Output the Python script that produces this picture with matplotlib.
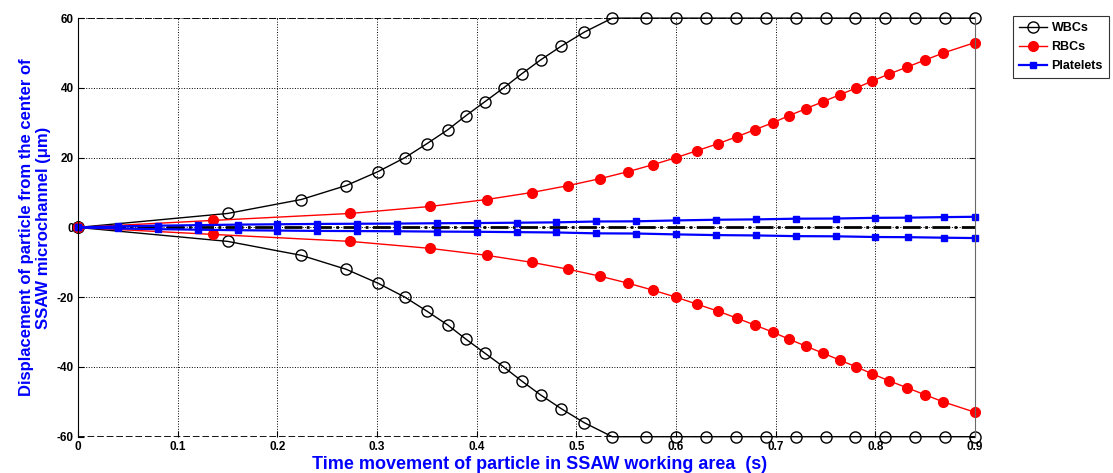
import numpy as np
from matplotlib import pyplot as plt

plt.rcParams['font.family'] = ['Liberation Sans', 'DejaVu Sans']
plt.rcParams['axes.unicode_minus'] = False

# WBCs (upper branch, lower branch is the mirror)
wbc_t = [0, 0.150, 0.224, 0.269, 0.301, 0.328, 0.350, 0.371, 0.389, 0.408,
         0.427, 0.445, 0.464, 0.485, 0.508, 0.536, 0.570, 0.600, 0.630, 0.660,
         0.690, 0.720, 0.750, 0.780, 0.810, 0.840, 0.870, 0.900]
wbc_d = [0, 4, 8, 12, 16, 20, 24, 28, 32, 36, 40, 44, 48, 52, 56,
         60, 60, 60, 60, 60, 60, 60, 60, 60, 60, 60, 60, 60]

# RBCs
rbc_t = [0, 0.135, 0.273, 0.353, 0.410, 0.455, 0.492, 0.524, 0.552, 0.577,
         0.600, 0.621, 0.642, 0.661, 0.679, 0.697, 0.713, 0.730, 0.747, 0.764,
         0.781, 0.797, 0.814, 0.832, 0.850, 0.868, 0.900]
rbc_d = [0, 2, 4, 6, 8, 10, 12, 14, 16, 18, 20, 22, 24, 26, 28, 30, 32, 34,
         36, 38, 40, 42, 44, 46, 48, 50, 53]

# Platelets
plt_t = [0, 0.04, 0.08, 0.12, 0.16, 0.20, 0.24, 0.28, 0.32, 0.36, 0.40, 0.44,
         0.48, 0.52, 0.56, 0.60, 0.64, 0.68, 0.72, 0.76, 0.80, 0.833, 0.869, 0.90]
plt_d = [0, 0.3, 0.5, 0.65, 0.8, 0.9, 1.0, 1.05, 1.1, 1.2, 1.25, 1.35,
         1.45, 1.7, 1.75, 2.0, 2.2, 2.3, 2.5, 2.55, 2.75, 2.8, 2.95, 3.05]

fig = plt.figure(figsize=(11.13, 4.73), dpi=100)
ax = fig.add_axes([0.0701, 0.0767, 0.806, 0.885])

ax.axhline(0, color='black', ls='-.', lw=2, zorder=1)
ax.axhline(60, color='black', ls='--', lw=1.3, zorder=1)
ax.axhline(-60, color='black', ls='--', lw=1.3, zorder=1)

h1, = ax.plot(wbc_t, wbc_d, 'k-o', mfc='none', ms=8, lw=1, mew=1, clip_on=False, label='WBCs')
ax.plot(wbc_t, -np.array(wbc_d), 'k-o', mfc='none', ms=8, lw=1, mew=1, clip_on=False)
h2, = ax.plot(rbc_t, rbc_d, '-o', color='red', ms=7, lw=1, clip_on=False, label='RBCs')
ax.plot(rbc_t, -np.array(rbc_d), '-o', color='red', ms=7, lw=1, clip_on=False)
h3, = ax.plot(plt_t, plt_d, '-s', color='blue', ms=4, lw=1.6, clip_on=False, label='Platelets')
ax.plot(plt_t, -np.array(plt_d), '-s', color='blue', ms=4, lw=1.6, clip_on=False)

ax.set_xlim(0, 0.9)
ax.set_ylim(-60, 60)
ax.set_xticks(np.arange(0, 0.91, 0.1))
ax.set_xticklabels(['0', '0.1', '0.2', '0.3', '0.4', '0.5', '0.6', '0.7', '0.8', '0.9'])
ax.set_yticks(range(-60, 61, 20))
ax.grid(True, color='black', ls=':', lw=0.7)
ax.tick_params(direction='in', length=4, labelsize=8.5, right=True, pad=3)
for lab in ax.get_xticklabels() + ax.get_yticklabels():
    lab.set_fontweight('bold')

ax.spines['top'].set_visible(False)
ax.spines['bottom'].set_visible(False)
ax.spines['right'].set_color('dimgray')

ax.set_xlabel('Time movement of particle in SSAW working area  (s)',
              color='blue', fontsize=13, fontweight='bold')
ax.xaxis.set_label_coords(0.515, -0.047, transform=ax.transAxes)
ax.xaxis.label.set_verticalalignment('top')
ax.set_ylabel('Displacement of particle from the center of\nSSAW microchannel (\u03bcm)',
              color='blue', fontsize=12, fontweight='bold', labelpad=4)

leg = fig.legend(handles=[h1, h2, h3], loc='upper left', bbox_to_anchor=(0.910, 0.966),
                 fancybox=False, edgecolor='black', borderaxespad=0,
                 prop={'weight': 'bold', 'size': 9}, handlelength=2.2,
                 labelspacing=0.55, borderpad=0.5, handletextpad=0.4)
leg.get_frame().set_linewidth(0.8)

fig.savefig('out.png', dpi=100)
